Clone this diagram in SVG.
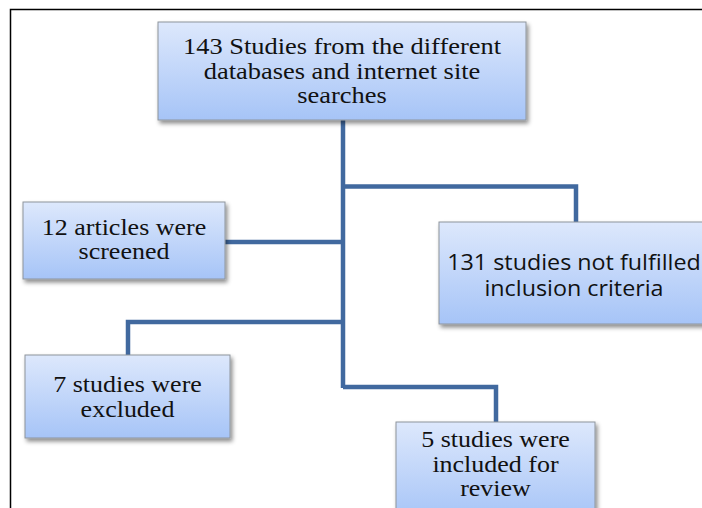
<svg xmlns="http://www.w3.org/2000/svg" width="702" height="508" viewBox="0 0 702 508">
<defs>
<linearGradient id="bg" x1="0" y1="0" x2="0" y2="1">
<stop offset="0" stop-color="#dde8fc"/>
<stop offset="1" stop-color="#a6c4f7"/>
</linearGradient>
<filter id="sh" x="-10%" y="-10%" width="130%" height="140%">
<feDropShadow dx="2" dy="3" stdDeviation="2" flood-color="#000" flood-opacity="0.45"/>
</filter>
</defs>
<style>
.box{fill:url(#bg);stroke:#8e949c;stroke-width:1;filter:url(#sh)}
.conn{fill:none;stroke:#41699f;stroke-width:4.5;stroke-linejoin:miter}
text.s{font-family:'Liberation Serif','DejaVu Serif',serif;font-size:22.6px;fill:#111;text-anchor:middle}
text.ss{font-family:'Open Sans','Liberation Sans',sans-serif;font-size:21px;fill:#111;text-anchor:middle}
</style>
<rect width="702" height="508" fill="#fff"/>
<path d="M10.5,508 V9.5 H702" fill="none" stroke="#000" stroke-width="1.5"/>
<g id="connectors">
<path class="conn" d="M343,120 V388"/>
<path class="conn" d="M343,186.5 H576 V222"/>
<path class="conn" d="M225,242 H343"/>
<path class="conn" d="M343,322 H128 V355"/>
<path class="conn" d="M343,387 H496 V422"/>
</g>
<g id="n143">
<rect class="box" x="158" y="22" width="368" height="98"/>
<text class="s" transform="translate(342,54) scale(1.17,1)">143 Studies from the different</text>
<text class="s" transform="translate(342,79) scale(1.17,1)">databases and internet site</text>
<text class="s" transform="translate(342,103) scale(1.17,1)">searches</text>
</g>
<g id="n12">
<rect class="box" x="23" y="202" width="202" height="77"/>
<text class="s" transform="translate(124,235) scale(1.15,1)">12 articles were</text>
<text class="s" transform="translate(124,259) scale(1.15,1)">screened</text>
</g>
<g id="n131">
<rect class="box" x="439" y="222" width="271" height="102"/>
<text class="ss" transform="translate(574,270) scale(1.11,1)">131 studies not fulfilled</text>
<text class="ss" transform="translate(574,296) scale(1.11,1)">inclusion criteria</text>
</g>
<g id="n7">
<rect class="box" x="25" y="355" width="205" height="83"/>
<text class="s" transform="translate(127.5,392) scale(1.15,1)">7 studies were</text>
<text class="s" transform="translate(127.5,417) scale(1.15,1)">excluded</text>
</g>
<g id="n5">
<rect class="box" x="396" y="422" width="199" height="98"/>
<text class="s" transform="translate(495.5,447) scale(1.15,1)">5 studies were</text>
<text class="s" transform="translate(495.5,472) scale(1.15,1)">included for</text>
<text class="s" transform="translate(495.5,496) scale(1.15,1)">review</text>
</g>
</svg>
